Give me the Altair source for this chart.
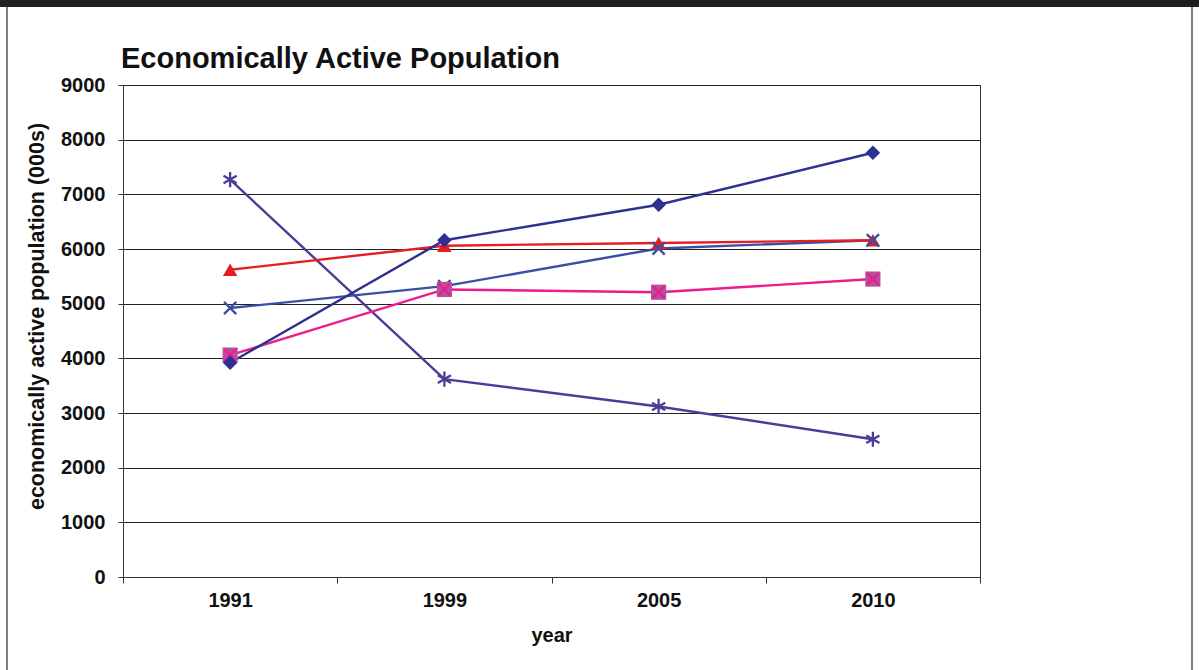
import altair as alt
import pandas as pd

years = ["1991", "1999", "2005", "2010"]
series = ["No qual", "Level 1", "Level 2", "Level 3", "Levels 4 & 5"]
no_qual = [7270, 3620, 3120, 2520]
level_1 = [4920, 5320, 6010, 6160]
level_2 = [5620, 6060, 6110, 6160]
level_3 = [4060, 5260, 5210, 5450]
levels_4_5 = [3920, 6160, 6810, 7760]
line_colors = ["#4F3B97", "#3A4FA3", "#E31E24", "#EC1C8C", "#2E3192"]
marker_fills = ["transparent", "transparent", "#E31E24", "#B5509F", "#2E3192"]

rows = []
for s, vals in zip(series, [no_qual, level_1, level_2, level_3, levels_4_5]):
    for yr, v in zip(years, vals):
        rows.append({"year": yr, "value": v, "series": s})
df = pd.DataFrame(rows)

FONT = "Liberation Sans"

ASTERISK = "M0,-1L0,1M-0.87,-0.5L0.87,0.5M-0.87,0.5L0.87,-0.5"
XMARK = "M-1,-1L1,1M-1,1L1,-1"

legend_shapes = [
    "M-1,0L1,0M0,-0.26L0,0.26M-0.225,-0.13L0.225,0.13M-0.225,0.13L0.225,-0.13",
    "M-1,0L1,0M-0.2,-0.2L0.2,0.2M-0.2,0.2L0.2,-0.2",
    "M-1,0L1,0M0,-0.24L0.25,0.2L-0.25,0.2Z",
    "M-1,0L1,0M-0.23,-0.23L0.23,-0.23L0.23,0.23L-0.23,0.23ZM-0.2,-0.2L0.2,0.2M-0.2,0.2L0.2,-0.2",
    "M-1,0L1,0M0,-0.24L0.24,0L0,0.24L-0.24,0Z",
]

x_enc = alt.X(
    "year:N",
    sort=years,
    scale=alt.Scale(type="band", paddingInner=0, paddingOuter=0),
    axis=alt.Axis(
        title="year",
        labelAngle=0,
        tickBand="extent",
        grid=False,
        tickSize=6,
        labelPadding=7,
        labelFontSize=20,
        labelFontWeight="bold",
        labelColor="#111",
        titleFontSize=20,
        titleFontWeight="bold",
        titleColor="#111",
        titlePadding=15,
        domainColor="#333",
        tickColor="#333",
    ),
)
y_enc = alt.Y(
    "value:Q",
    scale=alt.Scale(domain=[0, 9000], nice=False),
    axis=alt.Axis(
        title="economically active population (000s)",
        values=list(range(0, 9001, 1000)),
        format="d",
        grid=True,
        gridColor="#222",
        gridWidth=1,
        tickSize=5,
        labelPadding=13,
        labelFontSize=20,
        labelFontWeight="bold",
        labelColor="#111",
        titleFontSize=21.5,
        titleFontWeight="bold",
        titleColor="#111",
        titlePadding=12,
        titleY=231,
        domainColor="#333",
        tickColor="#333",
    ),
)

lines = alt.Chart(df).mark_line(strokeWidth=2.4).encode(
    x=x_enc,
    y=y_enc,
    color=alt.Color("series:N", scale=alt.Scale(domain=series, range=line_colors), legend=None),
    detail="series:N",
)

# corner legend (renders reliably); an invisible left-side title with a wide
# titlePadding pushes the entries out beside the plot
leg = alt.Legend(
    title=" ",
    titleOrient="left",
    titlePadding=780,
    titleFontSize=1,
    titleOpacity=0,
    orient="top-left",
    offset=92,
    symbolSize=3025,
    symbolStrokeWidth=2.4,
    labelFontSize=22,
    labelFontWeight="bold",
    labelColor="#111",
    labelOffset=6,
    rowPadding=14,
)

legend_layer = alt.Chart(df).mark_point(size=1, filled=False, strokeWidth=2.2, opacity=1).encode(
    x=x_enc,
    y=y_enc,
    shape=alt.Shape("series:N", scale=alt.Scale(domain=series, range=legend_shapes), legend=leg),
    stroke=alt.Stroke("series:N", scale=alt.Scale(domain=series, range=line_colors), legend=leg),
    fill=alt.Fill("series:N", scale=alt.Scale(domain=series, range=marker_fills), legend=leg),
)

def pts(name):
    return alt.Chart(df).transform_filter(alt.datum.series == name)

p_noq = pts("No qual").mark_point(shape=ASTERISK, filled=False, size=230, strokeWidth=2.3, opacity=1, color="#4F3B97").encode(x=x_enc, y=y_enc)
p_l1 = pts("Level 1").mark_point(shape=XMARK, filled=False, size=150, strokeWidth=2.3, opacity=1, color="#3A4FA3").encode(x=x_enc, y=y_enc)
p_l2 = pts("Level 2").mark_point(shape="triangle-up", filled=True, size=210, opacity=1, color="#E31E24").encode(x=x_enc, y=y_enc)
p_l3a = pts("Level 3").mark_point(shape="square", filled=True, size=230, opacity=1, color="#B5509F").encode(x=x_enc, y=y_enc)
p_l3b = pts("Level 3").mark_point(shape=XMARK, filled=False, size=140, strokeWidth=2.2, opacity=1, color="#EC1C8C").encode(x=x_enc, y=y_enc)
p_l45 = pts("Levels 4 & 5").mark_point(shape="diamond", filled=True, size=210, opacity=1, color="#2E3192").encode(x=x_enc, y=y_enc)

dummy = pd.DataFrame({"d": [0]})
top_bar = alt.Chart(dummy).mark_rect(color="#231F20").encode(
    x=alt.value(-123), x2=alt.value(1076), y=alt.value(-85), y2=alt.value(-78)
)
left_border = alt.Chart(dummy).mark_rule(color="#555", strokeWidth=1.5).encode(
    x=alt.value(-116), y=alt.value(-78), y2=alt.value(585)
)
right_border = alt.Chart(dummy).mark_rule(color="#555", strokeWidth=1.5).encode(
    x=alt.value(1069), y=alt.value(-78), y2=alt.value(585)
)

chart = alt.layer(
    lines, legend_layer, p_noq, p_l2, p_l1, p_l3a, p_l3b, p_l45, top_bar, left_border, right_border
).properties(
    width=857,
    height=492,
    padding={"left": 123, "top": 85, "right": 219, "bottom": 93},
    autosize=alt.AutoSizeParams(type="none"),
    title=alt.TitleParams(
        "Economically Active Population",
        anchor="start",
        frame="group",
        fontSize=29,
        fontWeight="bold",
        color="#111",
        baseline="alphabetic",
        offset=0,
        dy=97,
        dx=-2,
    ),
).configure(
    font=FONT,
    background="white",
).configure_view(
    stroke="#333", strokeWidth=1
)

chart.save("out.html", embed_options={"renderer": "svg", "actions": False})
